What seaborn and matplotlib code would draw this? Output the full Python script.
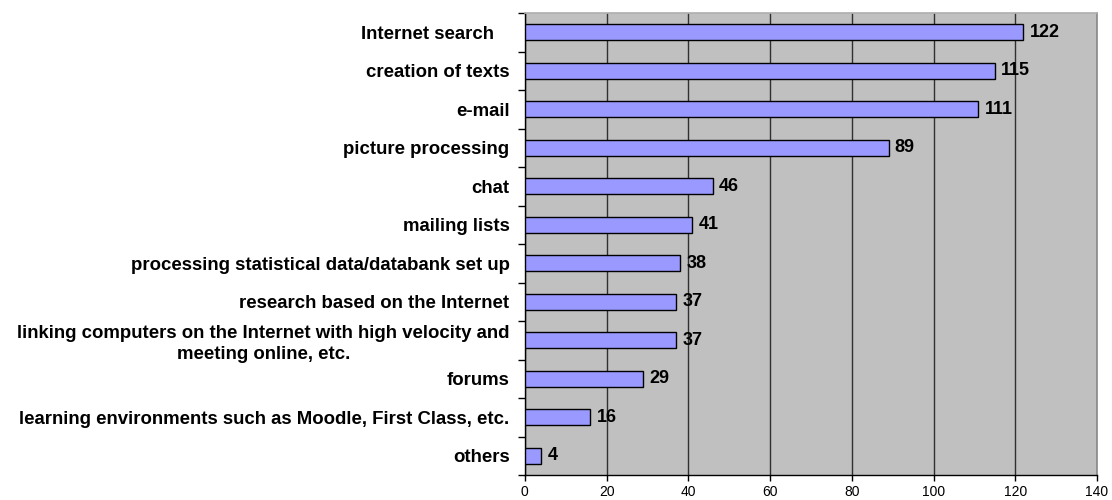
import matplotlib
matplotlib.use("Agg")
import matplotlib.pyplot as plt
import seaborn as sns
import pandas as pd
import numpy as np

categories = [
    "Internet search   ",
    "creation of texts",
    "e-mail",
    "picture processing",
    "chat",
    "mailing lists",
    "processing statistical data/databank set up",
    "research based on the Internet",
    "linking computers on the Internet with high velocity and\nmeeting online, etc.",
    "forums",
    "learning environments such as Moodle, First Class, etc.",
    "others",
]
counts = [122, 115, 111, 89, 46, 41, 38, 37, 37, 29, 16, 4]
x_ticks = [0, 20, 40, 60, 80, 100, 120, 140]

sns.set_theme(style="white")
plt.rcParams["font.family"] = ["Liberation Sans", "DejaVu Sans"]
plt.rcParams["text.color"] = "black"
plt.rcParams["xtick.color"] = "black"
plt.rcParams["ytick.color"] = "black"

df = pd.DataFrame({"category": categories, "count": counts})

fig = plt.figure(figsize=(11.12, 5.0), dpi=100)
ax = fig.add_axes([0.472, 0.05, 0.5145, 0.924])
ax.set_facecolor("#C0C0C0")

sns.barplot(data=df, y="category", x="count", orient="h", order=categories,
            color="#9999FF", saturation=1, width=0.42,
            edgecolor="black", linewidth=1.0, ax=ax, zorder=3)

ax.set_xlim(0, 140)
ax.set_ylim(len(categories) - 0.5, -0.5)
ax.set_xticks(x_ticks)
ax.set_xticklabels([str(t) for t in x_ticks], fontsize=10, color="black")
ax.xaxis.grid(True, color="#303030", linewidth=1.0, zorder=1)
ax.yaxis.grid(False)
ax.set_axisbelow(True)
ax.set_xlabel("")
ax.set_ylabel("")

# category labels on major ticks without marks, marks at category boundaries
ax.tick_params(axis="y", which="major", length=0, pad=11, labelsize=13.4,
               labelcolor="black")
for lbl in ax.get_yticklabels():
    lbl.set_fontweight("bold")
    lbl.set_multialignment("center")
    lbl.set_linespacing(1.3)
ax.set_yticks(np.arange(len(categories) + 1) - 0.5, minor=True)
ax.tick_params(axis="y", which="minor", left=True, length=5, width=1, color="black")
ax.tick_params(axis="x", which="major", bottom=True, length=4, width=1, color="black", pad=3)

for side in ["left", "bottom"]:
    ax.spines[side].set_color("black")
    ax.spines[side].set_linewidth(1.0)
ax.spines["right"].set_color("#8C8C8C")
ax.spines["top"].set_color("#B0B0B0")

for i, v in enumerate(counts):
    ax.text(v + 1.5, i, str(v), va="center", ha="left",
            fontsize=13, fontweight="bold", color="black", zorder=4)

fig.savefig("out.png", dpi=100, facecolor="white")
